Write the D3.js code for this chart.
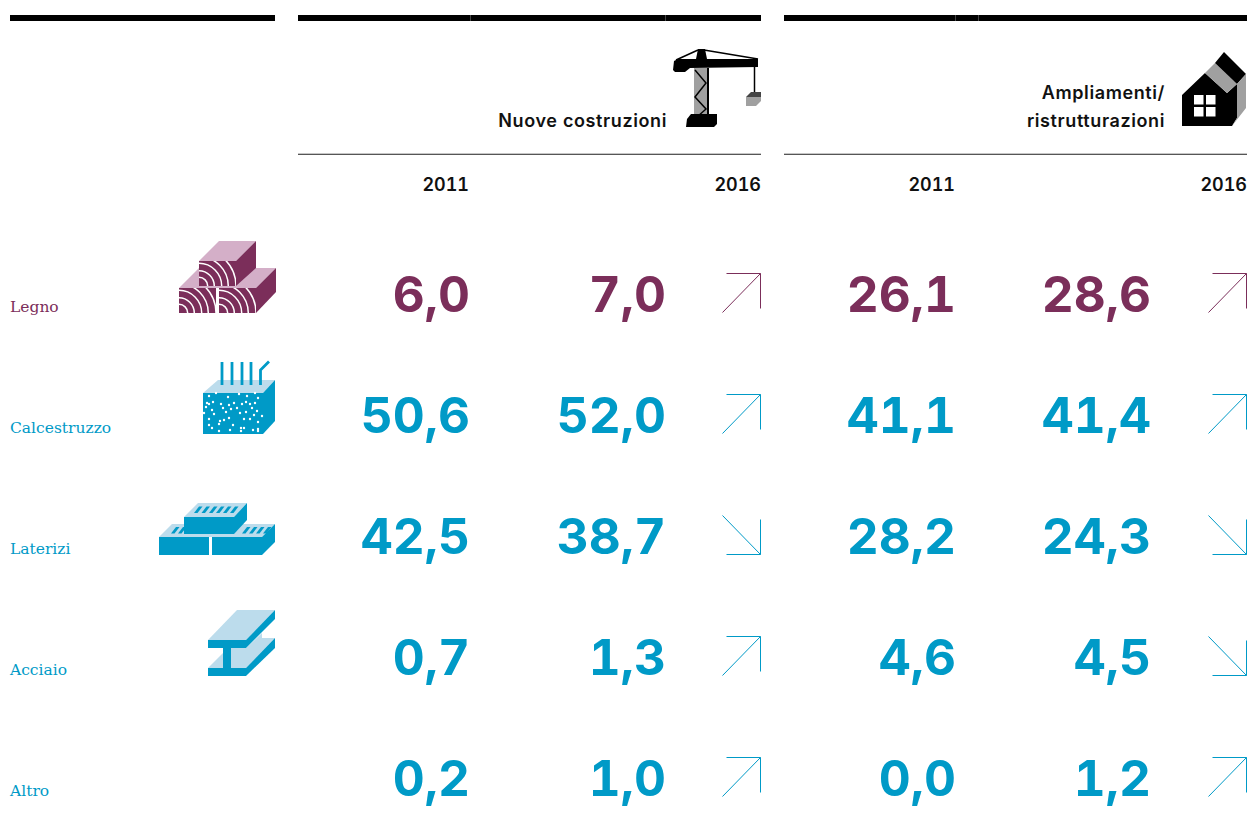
<!DOCTYPE html>
<meta charset="utf-8">
<style>
  body { margin: 0; background: #fff; }
  text { font-family: Inter, sans-serif; font-variant-numeric: tabular-nums; font-feature-settings: "tnum"; }
</style>

<script src="https://d3js.org/d3.v7.min.js"></script>

<div id="table"></div>

<script>
  // values
  var categories = ["Legno", "Calcestruzzo", "Laterizi", "Acciaio", "Altro"];
  var nuove2011 = [6.0, 50.6, 42.5, 0.7, 0.2];
  var nuove2016 = [7.0, 52.0, 38.7, 1.3, 1.0];
  var ampl2011 = [26.1, 41.1, 28.2, 4.6, 0.0];
  var ampl2016 = [28.6, 41.4, 24.3, 4.5, 1.2];
  var yearLabels = ["2011", "2016", "2011", "2016"];

  var purple = "#7b2e5a", pink = "#d4afc8", blue = "#009ac7", lightBlue = "#bcdcec";
  var gray = "#a0a0a0";

  var width = 1249, height = 819;

  var svg = d3.select("#table")
    .append("svg")
    .attr("width", width)
    .attr("height", height)
    .style("display", "block");

  // scales
  var y = d3.scalePoint().domain(categories).range([313, 797]);
  var color = d3.scaleOrdinal().domain(categories).range([purple, blue, blue, blue, blue]);
  var fmt = d3.formatLocale({ decimal: ",", thousands: ".", grouping: [3], currency: ["", "€"] }).format(".1f");

  // rules on top
  [[10, 275], [298, 761], [784, 1247]].forEach(function (r) {
    svg.append("rect").attr("x", r[0]).attr("y", 15).attr("width", r[1] - r[0]).attr("height", 6).attr("fill", "#000");
  });
  // faint seams in the thick rules
  [470, 665, 955, 978].forEach(function (x) {
    svg.append("rect").attr("x", x).attr("y", 15).attr("width", 1).attr("height", 6).attr("fill", "#444");
  });
  [[298, 761], [784, 1247]].forEach(function (r) {
    svg.append("rect").attr("x", r[0]).attr("y", 153.7).attr("width", r[1] - r[0]).attr("height", 1.2).attr("fill", "#444");
  });

  // header text
  function head(x, yy, t) {
    svg.append("text").attr("x", x).attr("y", yy).attr("text-anchor", "end")
      .style("font-size", "18px").style("font-weight", 600).style("letter-spacing", "0.6px").style("fill", "#111").text(t);
  }
  head(667, 127, "Nuove costruzioni");
  head(1165, 99, "Ampliamenti/");
  head(1165, 127, "ristrutturazioni");

  var yearX = [469, 761, 955, 1247];
  yearLabels.forEach(function (t, i) {
    svg.append("text").attr("x", yearX[i]).attr("y", 191).attr("text-anchor", "end")
      .style("font-size", "18px").style("font-weight", 600).style("fill", "#111").text(t);
  });

  // category labels
  svg.selectAll(".cat").data(categories).enter().append("text")
    .attr("class", "cat")
    .attr("x", 10)
    .attr("y", function (d) { return y(d) - 1; })
    .style("font-family", "'DejaVu Serif', serif")
    .style("font-size", "15.5px")
    .style("fill", function (d) { return color(d); })
    .text(function (d) { return d; });

  // number columns
  var columns = [
    { values: nuove2011, right: 470 },
    { values: nuove2016, right: 666, base: nuove2011, arrow: 761 },
    { values: ampl2011, right: 956 },
    { values: ampl2016, right: 1151, base: ampl2011, arrow: 1247 }
  ];
  var line = d3.line();

  columns.forEach(function (col) {
    svg.append("g").selectAll("text").data(col.values).enter().append("text")
      .attr("x", col.right)
      .attr("y", function (d, i) { return y(categories[i]) - 1; })
      .attr("text-anchor", "end")
      .style("font-size", "49.5px")
      .style("font-weight", 650)
      .style("fill", function (d, i) { return color(categories[i]); })
      .text(function (d) { return fmt(d); });

    if (!col.base) return;
    // trend arrows, direction comes from the 2011 -> 2016 change
    col.values.forEach(function (v, i) {
      var r = col.arrow - 0.5, b = y(categories[i]) - 0.5, c = color(categories[i]);
      var up = v > col.base[i];
      var tip = up ? [r, b - 39] : [r, b];
      var g = svg.append("g").attr("fill", "none").attr("stroke", c).attr("stroke-width", 1);
      g.append("path").attr("d", line([up ? [r - 38, b] : [r - 38, b - 39], tip]));
      g.append("path").attr("d", line([[r - 34, tip[1]], tip]));
      g.append("path").attr("d", line([tip, up ? [r, b - 4] : [r, b - 35]]));
    });
  });

  // icons
  var icons = svg.append("g");
  function poly(g, pts, fill) {
    return g.append("polygon").attr("points", pts.map(function (p) { return p.join(","); }).join(" ")).attr("fill", fill);
  }

  // crane
  var crane = icons.append("g");
  poly(crane, [[694, 68], [709, 68], [709, 117], [694, 117]], gray);
  poly(crane, [[707, 68], [709, 68], [709, 117], [707, 117]], "#000");
  crane.append("path").attr("d", line([[695, 70], [706, 83], [695, 97], [706, 109], [697, 117]]))
    .attr("fill", "none").attr("stroke", "#000").attr("stroke-width", 1.5);
  poly(crane, [[674, 61], [678, 59], [696, 59], [698, 49], [705, 49], [707, 59], [758, 59], [758, 67], [690, 68], [685, 72], [675, 72], [673, 70]], "#000");
  crane.append("path").attr("d", line([[676, 60], [698, 50]])).attr("stroke", "#000").attr("stroke-width", 1.5);
  crane.append("path").attr("d", line([[704, 50], [758, 59]])).attr("stroke", "#000").attr("stroke-width", 1.5);
  poly(crane, [[687, 119], [691, 114], [717, 114], [717, 124], [714, 127], [686, 127]], "#000");
  crane.append("path").attr("d", line([[754.5, 67], [754.5, 93]])).attr("stroke", "#000").attr("stroke-width", 1.5);
  poly(crane, [[746, 97], [751, 92], [761, 92], [761, 97]], "#444");
  poly(crane, [[746, 97], [761, 97], [761, 101], [756, 106], [746, 106]], gray);

  // house
  var house = icons.append("g");
  poly(house, [[1182, 95], [1205, 73], [1227, 93], [1237, 84], [1237, 118], [1232, 126], [1182, 126]], "#000");
  poly(house, [[1205, 73], [1215, 63], [1237, 84], [1227, 93]], gray);
  poly(house, [[1215, 63], [1224, 52], [1246, 74], [1237, 84]], "#000");
  poly(house, [[1237, 84], [1246, 74], [1246, 108], [1232, 126], [1237, 118]], gray);
  [[1194, 95], [1206, 95], [1194, 107], [1206, 107]].forEach(function (w) {
    house.append("rect").attr("x", w[0]).attr("y", w[1]).attr("width", 9.5).attr("height", 9.5).attr("fill", "#fff");
  });

  // wood
  var wood = icons.append("g");
  var defs = svg.append("defs");
  function woodFace(x0, y0, id) {
    defs.append("clipPath").attr("id", id).append("rect").attr("x", x0).attr("y", y0).attr("width", 37).attr("height", 25);
    wood.append("rect").attr("x", x0).attr("y", y0).attr("width", 37).attr("height", 25).attr("fill", purple);
    var g = wood.append("g").attr("clip-path", "url(#" + id + ")");
    [8.7, 15.3, 22.7, 29.3, 37].forEach(function (r) {
      g.append("circle").attr("cx", x0).attr("cy", y0 + 25).attr("r", r)
        .attr("fill", "none").attr("stroke", "#fff").attr("stroke-width", 1.5);
    });
  }
  poly(wood, [[179, 288], [199, 268], [276, 268], [256, 288]], pink);
  poly(wood, [[256, 288], [276, 268], [276, 292], [256, 313]], purple);
  woodFace(179, 288, "w1");
  woodFace(219, 288, "w2");
  poly(wood, [[199, 261], [219, 241], [256, 241], [236, 261]], pink);
  poly(wood, [[236, 261], [256, 241], [256, 268], [236, 286]], purple);
  woodFace(199, 261, "w3");

  // concrete
  var conc = icons.append("g");
  poly(conc, [[203, 393], [218, 380], [275, 380], [263, 393]], lightBlue);
  poly(conc, [[203, 393], [263, 393], [263, 434], [203, 434]], blue);
  poly(conc, [[263, 393], [275, 380], [275, 421], [263, 434]], blue);
  [222, 232, 242, 251].forEach(function (x) {
    conc.append("path").attr("d", line([[x, 362], [x, 385]])).attr("stroke", blue).attr("stroke-width", 2.8);
  });
  conc.append("path").attr("d", line([[260.5, 385], [260.5, 370], [269, 361.5]]))
    .attr("fill", "none").attr("stroke", blue).attr("stroke-width", 2.8);
  var specks = [[209, 396], [216, 393], [228, 397], [239, 394], [247, 396], [255, 393], [258, 398], [207, 403], [209, 404], [213, 402],
    [221, 404], [229, 405], [234, 403], [242, 404], [246, 402], [250, 404], [255, 403], [206, 407], [212, 410], [223, 408], [231, 409],
    [237, 408], [252, 408], [257, 411], [204, 413], [214, 414], [226, 412], [240, 413], [246, 412], [254, 415], [262, 416], [209, 419],
    [220, 421], [224, 420], [229, 418], [244, 419], [250, 419], [258, 422], [209, 425], [219, 424], [233, 425], [241, 428], [244, 428],
    [253, 430], [258, 429], [212, 428], [219, 431], [230, 430], [241, 431], [258, 431]];
  conc.selectAll("circle").data(specks).enter().append("circle")
    .attr("cx", function (d) { return d[0]; })
    .attr("cy", function (d) { return d[1]; })
    .attr("r", 1.2)
    .attr("fill", "#fff");

  // bricks
  var brick = icons.append("g");
  poly(brick, [[159, 537], [172, 524], [275, 524], [262, 537]], lightBlue);
  poly(brick, [[159, 537], [209, 537], [209, 555], [159, 555]], blue);
  poly(brick, [[212, 537], [262, 537], [262, 555], [212, 555]], blue);
  poly(brick, [[262, 537], [275, 524], [275, 542], [262, 555]], blue);
  function slot(x, yy) {
    poly(brick, [[x, yy + 6.5], [x + 5, yy], [x + 8.5, yy], [x + 3.5, yy + 6.5]], blue);
  }
  [171, 178].forEach(function (x) { slot(x, 527); });
  [242, 249, 256, 263].forEach(function (x) { slot(x, 527); });
  poly(brick, [[184, 517], [198, 503], [247, 503], [234, 517]], lightBlue);
  poly(brick, [[184, 517], [234, 517], [234, 534], [184, 534]], blue);
  poly(brick, [[234, 517], [247, 503], [247, 520], [234, 534]], blue);
  [194, 201.5, 209, 216, 223, 230].forEach(function (x) { slot(x, 506.5); });

  // steel beam
  var steel = icons.append("g");
  poly(steel, [[208, 668], [223, 653], [223, 668]], lightBlue);
  poly(steel, [[231, 668], [231, 648], [246, 648], [262, 633], [262, 638], [275, 638], [246, 668]], lightBlue);
  poly(steel, [[208, 668], [246, 668], [246, 676], [208, 676]], blue);
  poly(steel, [[246, 668], [275, 638], [275, 648], [246, 676]], blue);
  poly(steel, [[223, 648], [231, 648], [231, 668], [223, 668]], blue);
  poly(steel, [[208, 640], [237, 610], [275, 610], [246, 640]], lightBlue);
  poly(steel, [[208, 640], [246, 640], [246, 648], [208, 648]], blue);
  poly(steel, [[246, 640], [275, 610], [275, 619], [246, 648]], blue);
</script>
